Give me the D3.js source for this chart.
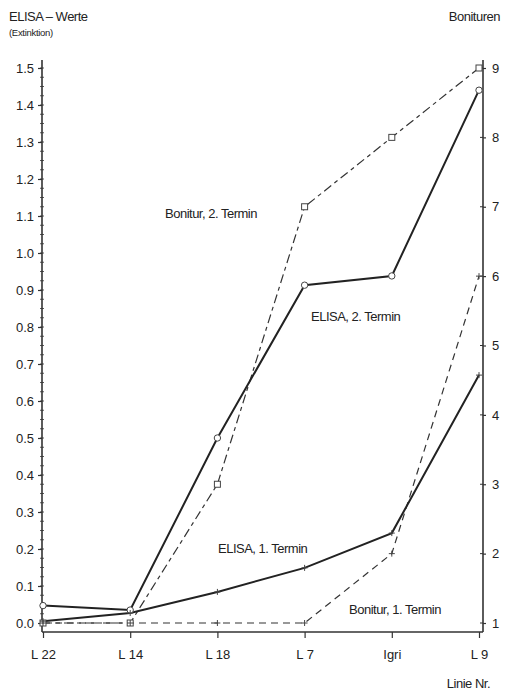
<!DOCTYPE html>
<html>
<head>
<meta charset="utf-8">
<script src="https://cdn.jsdelivr.net/npm/d3@7"></script>
<style>
  body { margin: 0; background: #fff; }
  svg text { font-family: "Liberation Sans", Arial, sans-serif; fill: #222; }
</style>
</head>
<body>
<div id="chart"></div>
<script>

// Linien (x-Achse)
const linien = ["L 22", "L 14", "L 18", "L 7", "Igri", "L 9"];

// ELISA-Werte (Extinktion), linke Achse
const elisa1 = [0.005, 0.027, 0.084, 0.149, 0.243, 0.67];
const elisa2 = [0.047, 0.035, 0.5, 0.913, 0.938, 1.44];

// Bonituren, rechte Achse
const bonitur1 = [1, 1, 1, 1, 2, 6];
const bonitur2 = [1, 1, 3, 7, 8, 9];

const leftTicks = [0, 0.1, 0.2, 0.3, 0.4, 0.5, 0.6, 0.7, 0.8, 0.9, 1.0, 1.1, 1.2, 1.3, 1.4, 1.5];
const rightTicks = [1, 2, 3, 4, 5, 6, 7, 8, 9];


const width = 510, height = 690;

const svg = d3.select("#chart").append("svg")
    .attr("width", width)
    .attr("height", height);

const x = d3.scalePoint()
    .domain(linien)
    .range([43, 479]);

const yLeft = d3.scaleLinear()
    .domain([0, 1.5])
    .range([623, 68]);

const yRight = d3.scaleLinear()
    .domain([1, 9])
    .range([623, 68]);

const axisColor = "#333";

// frame lines (left, bottom, right)
svg.append("line")
    .attr("x1", 42).attr("x2", 42)
    .attr("y1", 60).attr("y2", 632)
    .attr("stroke", axisColor).attr("stroke-width", 1.6);

svg.append("line")
    .attr("x1", 42).attr("x2", 483)
    .attr("y1", 632).attr("y2", 632)
    .attr("stroke", axisColor).attr("stroke-width", 1.6);

svg.append("line")
    .attr("x1", 483).attr("x2", 483)
    .attr("y1", 60).attr("y2", 632)
    .attr("stroke", axisColor).attr("stroke-width", 1.6);


// left axis
const leftAxis = svg.append("g")
    .attr("transform", "translate(42,0)")
    .call(d3.axisLeft(yLeft)
        .tickValues(leftTicks)
        .tickSize(4)
        .tickPadding(4)
        .tickFormat(d3.format(".1f")));

// minor ticks left
svg.append("g")
    .selectAll("line")
    .data(d3.range(0, 1.5001, 0.025))
    .enter()
    .append("line")
    .attr("x1", 40).attr("x2", 44)
    .attr("y1", d => yLeft(d)).attr("y2", d => yLeft(d))
    .attr("stroke", axisColor).attr("stroke-width", 0.8);

// right axis
const rightAxis = svg.append("g")
    .attr("transform", "translate(483,0)")
    .call(d3.axisRight(yRight)
        .tickValues(rightTicks)
        .tickSize(3)
        .tickPadding(6)
        .tickFormat(d3.format("d")));

svg.append("g")
    .selectAll("line")
    .data(rightTicks)
    .enter()
    .append("line")
    .attr("x1", 480).attr("x2", 483)
    .attr("y1", d => yRight(d)).attr("y2", d => yRight(d))
    .attr("stroke", axisColor).attr("stroke-width", 1);

// bottom axis
const bottomAxis = svg.append("g")
    .attr("transform", "translate(0,632)")
    .call(d3.axisBottom(x)
        .tickSize(6)
        .tickPadding(12));

[leftAxis, rightAxis, bottomAxis].forEach(function (g) {
    g.select(".domain").remove();
    g.selectAll(".tick line").attr("stroke", axisColor).attr("stroke-width", 1.2);
    g.selectAll(".tick text")
        .style("font-family", "'Liberation Sans', Arial, sans-serif")
        .style("font-size", "13px")
        .attr("fill", "#222");
});


// lines
const lineLeft = d3.line()
    .x((d, i) => x(linien[i]))
    .y(d => yLeft(d));

const lineRight = d3.line()
    .x((d, i) => x(linien[i]))
    .y(d => yRight(d));

svg.append("path")
    .datum(bonitur1)
    .attr("d", lineRight)
    .attr("fill", "none")
    .attr("stroke", "#333")
    .attr("stroke-width", 1.2)
    .attr("stroke-dasharray", "7,5");

svg.append("path")
    .datum(bonitur2)
    .attr("d", lineRight)
    .attr("fill", "none")
    .attr("stroke", "#333")
    .attr("stroke-width", 1.2)
    .attr("stroke-dasharray", "9,4,4,4");

svg.append("path")
    .datum(elisa1)
    .attr("d", lineLeft)
    .attr("fill", "none")
    .attr("stroke", "#222")
    .attr("stroke-width", 2);

svg.append("path")
    .datum(elisa2)
    .attr("d", lineLeft)
    .attr("fill", "none")
    .attr("stroke", "#222")
    .attr("stroke-width", 2);


// markers
svg.append("g")
    .selectAll("circle")
    .data(elisa2)
    .enter()
    .append("circle")
    .attr("cx", (d, i) => x(linien[i]))
    .attr("cy", d => yLeft(d))
    .attr("r", 3.2)
    .attr("fill", "#fff")
    .attr("stroke", "#444")
    .attr("stroke-width", 1);

svg.append("g")
    .selectAll("rect")
    .data(bonitur2)
    .enter()
    .append("rect")
    .attr("x", (d, i) => x(linien[i]) - 3)
    .attr("y", d => yRight(d) - 3)
    .attr("width", 6)
    .attr("height", 6)
    .attr("fill", "#fff")
    .attr("stroke", "#444")
    .attr("stroke-width", 1);

svg.append("g")
    .selectAll("path")
    .data(bonitur1)
    .enter()
    .append("path")
    .attr("d", (d, i) => {
        const cx = x(linien[i]), cy = yRight(d);
        return `M${cx - 3},${cy}L${cx + 3},${cy}M${cx},${cy - 3}L${cx},${cy + 3}`;
    })
    .attr("stroke", "#444")
    .attr("stroke-width", 1);

svg.append("g")
    .selectAll("path")
    .data(elisa1)
    .enter()
    .append("path")
    .attr("d", (d, i) => {
        const cx = x(linien[i]), cy = yLeft(d);
        return `M${cx - 3},${cy}L${cx + 3},${cy}M${cx},${cy - 3}L${cx},${cy + 3}`;
    })
    .attr("stroke", "#444")
    .attr("stroke-width", 1);


// titles
svg.append("text")
    .attr("x", 9).attr("y", 21)
    .style("font-size", "13px")
    .style("letter-spacing", "-0.5px")
    .text("ELISA – Werte");

svg.append("text")
    .attr("x", 9).attr("y", 36)
    .style("font-size", "9.5px")
    .style("letter-spacing", "-0.3px")
    .text("(Extinktion)");

svg.append("text")
    .attr("x", 500).attr("y", 21)
    .attr("text-anchor", "end")
    .style("font-size", "13px")
    .style("letter-spacing", "-0.5px")
    .text("Bonituren");

svg.append("text")
    .attr("x", 490).attr("y", 688)
    .attr("text-anchor", "end")
    .style("font-size", "13px")
    .style("letter-spacing", "-0.5px")
    .text("Linie Nr.");


// series labels
const seriesLabels = [
    { text: "Bonitur, 2. Termin", x: 165, y: 218 },
    { text: "ELISA, 2. Termin", x: 311, y: 321 },
    { text: "ELISA, 1. Termin", x: 218, y: 553 },
    { text: "Bonitur, 1. Termin", x: 349, y: 614 }
];

svg.append("g")
    .selectAll("text")
    .data(seriesLabels)
    .enter()
    .append("text")
    .attr("x", d => d.x)
    .attr("y", d => d.y)
    .style("font-size", "13px")
    .style("letter-spacing", "-0.5px")
    .text(d => d.text);

</script>
</body>
</html>
